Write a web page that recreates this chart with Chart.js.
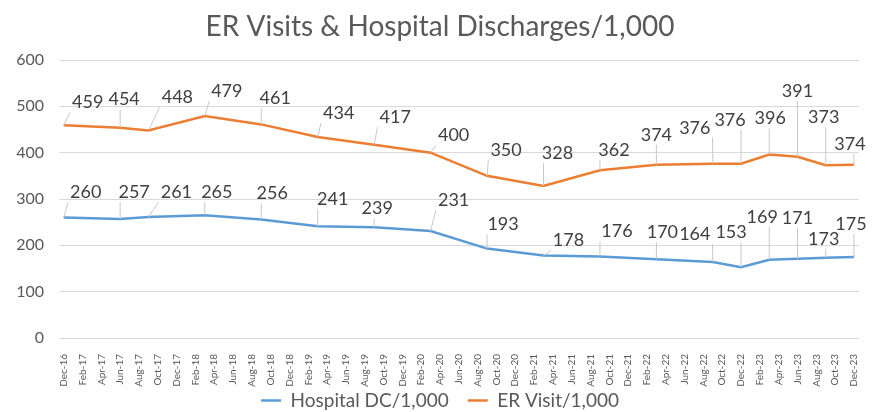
<!DOCTYPE html>
<html>
<head>
<meta charset="utf-8">
<script src="https://cdn.jsdelivr.net/npm/chart.js@4.4.1/dist/chart.umd.min.js"></script>
<style>
  html, body { margin: 0; padding: 0; background: #fff; }
  #wrap { width: 874px; height: 412px; }
</style>
</head>
<body>
<div id="wrap"><canvas id="erChart" width="874" height="412"></canvas></div>
<script>
// data
const months = ['Dec-16', 'Jun-17', 'Sep-17', 'Mar-18', 'Sep-18', 'Mar-19', 'Sep-19', 'Mar-20', 'Sep-20',
  'Mar-21', 'Sep-21', 'Mar-22', 'Sep-22', 'Dec-22', 'Mar-23', 'Jun-23', 'Sep-23', 'Dec-23'];
const hospitalDC = [260, 257, 261, 265, 256, 241, 239, 231, 193, 178, 176, 170, 164, 153, 169, 171, 173, 175];
const erVisits = [459, 454, 448, 479, 461, 434, 417, 400, 350, 328, 362, 374, 376, 376, 396, 391, 373, 374];
const tickLabels = ['Dec-16', 'Feb-17', 'Apr-17', 'Jun-17', 'Aug-17', 'Oct-17', 'Dec-17', 'Feb-18', 'Apr-18',
  'Jun-18', 'Aug-18', 'Oct-18', 'Dec-18', 'Feb-19', 'Apr-19', 'Jun-19', 'Aug-19', 'Oct-19', 'Dec-19',
  'Feb-20', 'Apr-20', 'Jun-20', 'Aug-20', 'Oct-20', 'Dec-20', 'Feb-21', 'Apr-21', 'Jun-21', 'Aug-21',
  'Oct-21', 'Dec-21', 'Feb-22', 'Apr-22', 'Jun-22', 'Aug-22', 'Oct-22', 'Dec-22', 'Feb-23', 'Apr-23',
  'Jun-23', 'Aug-23', 'Oct-23', 'Dec-23'];
const yTicks = [0, 100, 200, 300, 400, 500, 600];

// where Excel put each data label, relative to its point (px)
const dcLabelShift = [[22, -25], [14, -27], [28, -25], [12, -23], [11, -26], [15, -27], [3, -19], [23, -31], [16, -24],
  [25, -15], [17, -25], [6, -27], [-18, -28], [-10, -35], [-7, -43], [0, -41], [-2, -19], [-3, -33]];
const erLabelShift = [[24, -23], [4, -28], [29, -33], [22, -25], [14, -26], [21, -24], [21, -28], [23, -17], [19, -26],
  [14, -33], [14, -20], [0, -30], [-18, -36], [-11, -44], [1, -36], [0, -66], [-2, -48], [-4, -21]];

const MON = ['Jan', 'Feb', 'Mar', 'Apr', 'May', 'Jun', 'Jul', 'Aug', 'Sep', 'Oct', 'Nov', 'Dec'];
// months since Dec-16
function monthIndex(label) {
  const [m, y] = label.split('-');
  return (Number(y) - 16) * 12 + MON.indexOf(m) - 11;
}

const FONT = 'Lato, "Open Sans", sans-serif';
const TEXT = '#595959';
const PLOT_BOTTOM = 338;

// data labels with leader lines, like Excel
const excelLabels = {
  id: 'excelLabels',
  afterDatasetsDraw(chart) {
    const ctx = chart.ctx;
    const shifts = [dcLabelShift, erLabelShift];
    ctx.save();
    ctx.font = '18px ' + FONT;
    ctx.textAlign = 'center';
    ctx.textBaseline = 'middle';
    chart.data.datasets.forEach((ds, di) => {
      chart.getDatasetMeta(di).data.forEach((pt, i) => {
        const [dx, dy] = shifts[di][i];
        const txt = String(ds.data[i].y);
        const cx = pt.x + dx, cy = pt.y + dy;
        const w = ctx.measureText(txt).width;
        const left = cx - w / 2 - 2, right = cx + w / 2 + 2;
        const top = cy - 9, bottom = cy + 10;
        const tx = Math.min(Math.max(pt.x, left), right);
        const ty = Math.min(Math.max(pt.y, top), bottom);
        if (Math.hypot(tx - pt.x, ty - pt.y) > 6) {
          ctx.strokeStyle = '#c8c8c8';
          ctx.lineWidth = 1;
          ctx.beginPath();
          ctx.moveTo(pt.x, pt.y);
          ctx.lineTo(tx, ty);
          ctx.stroke();
        }
        ctx.fillStyle = '#404040';
        ctx.fillText(txt, cx, cy);
      });
    });
    ctx.restore();
  }
};

new Chart(document.getElementById('erChart').getContext('2d'), {
  type: 'line',
  data: {
    datasets: [
      {
        label: 'Hospital DC/1,000',
        data: months.map((m, i) => ({ x: monthIndex(m), y: hospitalDC[i] })),
        borderColor: '#5B9BD5',
        backgroundColor: '#5B9BD5',
        borderWidth: 2.5,
        pointRadius: 0,
        tension: 0,
      },
      {
        label: 'ER Visit/1,000',
        data: months.map((m, i) => ({ x: monthIndex(m), y: erVisits[i] })),
        borderColor: '#ED7D31',
        backgroundColor: '#ED7D31',
        borderWidth: 2.5,
        pointRadius: 0,
        tension: 0,
      },
    ],
  },
  options: {
    responsive: false,
    animation: false,
    devicePixelRatio: 1,
    layout: { padding: { left: 15, right: 9, top: 0, bottom: -8 } },
    plugins: {
      title: {
        display: true,
        text: 'ER Visits & Hospital Discharges/1,000',
        color: TEXT,
        font: { family: FONT, size: 28, weight: 'normal' },
        padding: { top: 10, bottom: 16.4 },
      },
      legend: {
        position: 'bottom',
        labels: {
          color: TEXT,
          font: { family: FONT, size: 19 },
          usePointStyle: true,
          pointStyle: 'line',
          pointStyleWidth: 20,
          padding: 19,
        },
      },
      tooltip: { enabled: false },
    },
    scales: {
      x: {
        type: 'linear',
        min: -0.5,
        max: 84.5,
        grid: { display: false },
        border: { display: false },
        afterBuildTicks: (scale) => {
          scale.ticks = tickLabels.map((l) => ({ value: monthIndex(l) }));
        },
        afterFit: (scale) => {
          scale.height = 412 + 8 - scale.chart.legend.height - PLOT_BOTTOM;
          // let the rotated labels run past the shortened axis box
          scale._computeLabelArea = () => null;
        },
        ticks: {
          autoSkip: false,
          minRotation: 90,
          maxRotation: 90,
          padding: 8,
          color: TEXT,
          font: { family: FONT, size: 10 },
          callback: (value, index) => tickLabels[index],
        },
      },
      y: {
        min: 0,
        max: 600,
        afterBuildTicks: (scale) => {
          scale.ticks = yTicks.map((v) => ({ value: v }));
        },
        afterFit: (scale) => { scale.width = 44; },
        grid: { color: '#d9d9d9', drawTicks: false },
        border: { display: false },
        ticks: {
          padding: 15,
          color: TEXT,
          font: { family: FONT, size: 16 },
        },
      },
    },
  },
  plugins: [excelLabels],
});
</script>
</body>
</html>
